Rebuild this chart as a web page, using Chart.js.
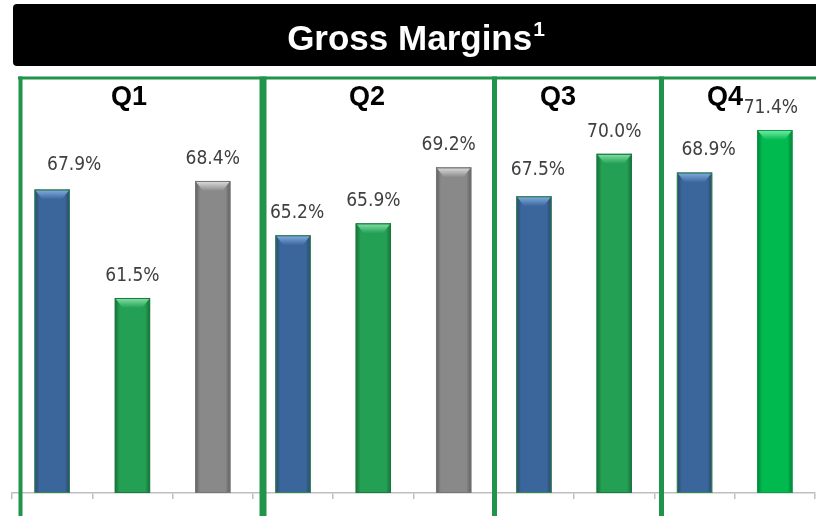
<!DOCTYPE html>
<html>
<head>
<meta charset="utf-8">
<title>Gross Margins</title>
<script src="https://cdn.jsdelivr.net/npm/chart.js@4/dist/chart.umd.min.js"></script>
<style>
  html, body { margin: 0; padding: 0; background: #ffffff; overflow: hidden; }
  #chart { display: block; }
</style>
</head>
<body>
<canvas id="chart" width="816" height="516"></canvas>
<script>
// Gross margin by quarter (%)
const quarters = ['Q1', 'Q2', 'Q3', 'Q4'];
const blueSeries = [67.9, 65.2, 67.5, 68.9];
const greenSeries = [61.5, 65.9, 70.0, 71.4];
const graySeries = [68.4, 69.2, null, null];

// Bar palette: base fill, bevel highlight, outline
const palette = {
  blue:   { base: '#3b669b', light: '#86b0e6', line: '#2c8a4a' },
  green:  { base: '#23a054', light: '#86e2aa', line: '#1a7b3d' },
  gray:   { base: '#898989', light: '#e0e0e0', line: '#777777' },
  bright: { base: '#00b94f', light: '#7af0ab', line: '#0b9a46' }
};

// One slot on the axis per bar, grouped by quarter
const slots = [];
quarters.forEach((q, i) => {
  slots.push({ q, series: 'blue', value: blueSeries[i] });
  slots.push({ q, series: 'green', value: greenSeries[i] });
  if (graySeries[i] !== null) slots.push({ q, series: 'gray', value: graySeries[i] });
});
const slotLabels = slots.map(s => s.q + ' ' + s.series);
const seriesData = name => slots.map(s => (s.series === name ? s.value : null));

// the last green bar uses the brighter green
const lastGreen = slots.map(s => s.series).lastIndexOf('green');
const colourFor = (name, idx) =>
  (name === 'green' && idx === lastGreen) ? palette.bright : palette[name];

// small per-slot shifts of the value labels (dx, dy in px)
const labelNudge = { 0: [22, -2], 3: [4, 0], 6: [4, -4], 8: [14, 0], 9: [-4, 0], 5: [-5, 0] };

// Frame around each quarter and the title band
const frame = {
  color: '#20944a',
  top: 78,
  dividers: [{ x: 20.5, w: 4 }, { x: 263, w: 7 }, { x: 494.5, w: 5 }, { x: 661.5, w: 5 }],
  labelX: [129, 367, 558, 725],
  labelY: 98
};

const backgroundAndTitle = {
  id: 'backgroundAndTitle',
  beforeDraw(chart) {
    const ctx = chart.ctx;
    ctx.save();
    ctx.fillStyle = '#ffffff';
    ctx.fillRect(0, 0, chart.width, chart.height);
    // black title band
    ctx.fillStyle = '#000000';
    ctx.beginPath();
    ctx.roundRect(13, 4, 830, 62, 4);
    ctx.fill();
    // title text with superscript
    const main = 'Gross Margins';
    const sup = '1';
    ctx.fillStyle = '#ffffff';
    ctx.textBaseline = 'alphabetic';
    ctx.font = 'bold 35px "Liberation Sans", Arial, sans-serif';
    const wMain = ctx.measureText(main).width;
    ctx.font = 'bold 21px "Liberation Sans", Arial, sans-serif';
    const wSup = ctx.measureText(sup).width;
    const x0 = 416 - (wMain + wSup + 1) / 2;
    ctx.font = 'bold 35px "Liberation Sans", Arial, sans-serif';
    ctx.textAlign = 'left';
    ctx.fillText(main, x0, 50);
    ctx.font = 'bold 21px "Liberation Sans", Arial, sans-serif';
    ctx.fillText(sup, x0 + wMain + 1, 36);
    ctx.restore();
  }
};

const bevelBars = {
  id: 'bevelBars',
  afterDatasetsDraw(chart) {
    const ctx = chart.ctx;
    const area = chart.chartArea;
    ctx.save();
    ctx.beginPath();
    ctx.rect(area.left, area.top - 20, area.right - area.left, area.bottom - area.top + 20);
    ctx.clip();
    chart.data.datasets.forEach((ds, di) => {
      const meta = chart.getDatasetMeta(di);
      meta.data.forEach((bar, idx) => {
        if (ds.data[idx] === null) return;
        const { x, y, width } = bar.getProps(['x', 'y', 'width'], true);
        const base = area.bottom;
        const c = colourFor(ds.seriesName, idx);
        const L = x - width / 2, R = x + width / 2, H = base - y;
        // darker side edges
        const g = ctx.createLinearGradient(L, 0, R, 0);
        g.addColorStop(0, 'rgba(0,0,0,0.32)');
        g.addColorStop(0.14, 'rgba(0,0,0,0)');
        g.addColorStop(0.86, 'rgba(0,0,0,0)');
        g.addColorStop(1, 'rgba(0,0,0,0.32)');
        ctx.fillStyle = g;
        ctx.fillRect(L, y, width, H);
        // lighter top bevel
        const bh = 10, bw = 8;
        const gt = ctx.createLinearGradient(0, y, 0, y + bh);
        gt.addColorStop(0, c.light);
        gt.addColorStop(1, c.base);
        ctx.fillStyle = gt;
        ctx.beginPath();
        ctx.moveTo(L + 1, y + 1);
        ctx.lineTo(R - 1, y + 1);
        ctx.lineTo(R - bw, y + bh);
        ctx.lineTo(L + bw, y + bh);
        ctx.closePath();
        ctx.fill();
        // outline
        ctx.strokeStyle = c.line;
        ctx.lineWidth = 1;
        ctx.strokeRect(L + 0.5, y + 0.5, width - 1, H - 1);
      });
    });
    ctx.restore();
  }
};

const valueLabels = {
  id: 'valueLabels',
  afterDatasetsDraw(chart) {
    const ctx = chart.ctx;
    ctx.save();
    ctx.font = '19px "DejaVu Sans Condensed", "DejaVu Sans", sans-serif';
    ctx.fillStyle = '#404040';
    ctx.textAlign = 'center';
    ctx.textBaseline = 'middle';
    chart.data.datasets.forEach((ds, di) => {
      const meta = chart.getDatasetMeta(di);
      meta.data.forEach((bar, idx) => {
        const v = ds.data[idx];
        if (v === null) return;
        const n = labelNudge[idx] || [0, 0];
        ctx.fillText(v.toFixed(1) + '%', bar.x + n[0], bar.y - 22 + n[1]);
      });
    });
    ctx.restore();
  }
};

const quarterFrames = {
  id: 'quarterFrames',
  afterDraw(chart) {
    const ctx = chart.ctx;
    ctx.save();
    ctx.fillStyle = frame.color;
    ctx.fillRect(18, frame.top - 1.5, chart.width, 3);
    frame.dividers.forEach(d => {
      ctx.fillRect(d.x - d.w / 2, frame.top - 1.5, d.w, chart.height);
    });
    ctx.fillStyle = '#000000';
    ctx.font = 'bold 27px "Liberation Sans", Arial, sans-serif';
    ctx.textAlign = 'center';
    ctx.textBaseline = 'middle';
    quarters.forEach((q, i) => ctx.fillText(q, frame.labelX[i], frame.labelY));
    ctx.restore();
  }
};

const makeSet = name => ({
  seriesName: name,
  data: seriesData(name),
  grouped: false,
  backgroundColor: c => colourFor(name, c.dataIndex).base,
  borderWidth: 0,
  categoryPercentage: 0.44,
  barPercentage: 1
});

new Chart(document.getElementById('chart'), {
  type: 'bar',
  data: {
    labels: slotLabels,
    datasets: [makeSet('blue'), makeSet('green'), makeSet('gray')]
  },
  options: {
    responsive: false,
    devicePixelRatio: 1,
    animation: false,
    layout: { padding: { left: 12, right: 1, top: 69, bottom: 17 } },
    plugins: { legend: { display: false }, tooltip: { enabled: false }, title: { display: false } },
    scales: {
      x: {
        offset: true,
        ticks: { display: false },
        grid: { offset: true, drawOnChartArea: false, drawTicks: true, tickLength: 6, color: '#bfbfbf', lineWidth: 1.5 },
        border: { display: true, color: '#bfbfbf', width: 1.5 }
      },
      y: {
        display: false,
        min: 50,
        max: 75
      }
    }
  },
  plugins: [backgroundAndTitle, bevelBars, valueLabels, quarterFrames]
});
</script>
</body>
</html>
